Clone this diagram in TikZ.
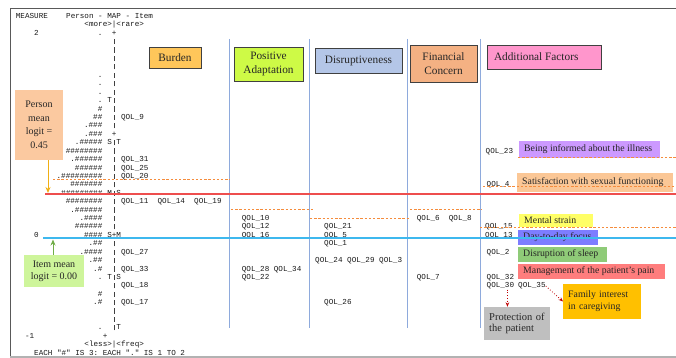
\documentclass[tikz,border=0pt]{standalone}
\usepackage{fontspec}
\setmainfont{Liberation Serif}
\setmonofont{Liberation Mono}
\usetikzlibrary{arrows.meta}
\definecolor{vcol}{RGB}{142,170,220}
\definecolor{ocol}{RGB}{245,140,60}
\definecolor{redl}{RGB}{238,78,78}
\definecolor{bluel}{RGB}{62,184,238}
\definecolor{burc}{RGB}{255,198,90}
\definecolor{posc}{RGB}{206,250,70}
\definecolor{disc}{RGB}{180,198,231}
\definecolor{finc}{RGB}{244,177,131}
\definecolor{addc}{RGB}{255,150,204}
\definecolor{infc}{RGB}{204,153,255}
\definecolor{satc}{RGB}{251,199,150}
\definecolor{menc}{RGB}{255,255,102}
\definecolor{dayc}{RGB}{125,125,255}
\definecolor{slpc}{RGB}{143,203,120}
\definecolor{painc}{RGB}{255,125,125}
\definecolor{protc}{RGB}{191,191,191}
\definecolor{famc}{RGB}{255,192,0}
\definecolor{pmc}{RGB}{251,201,160}
\definecolor{imc}{RGB}{206,245,155}
\definecolor{pmarr}{RGB}{240,175,20}
\definecolor{imarr}{RGB}{112,173,71}
\definecolor{darr}{RGB}{192,0,0}
\tikzset{
  wmono/.style={font=\ttfamily\fontsize{7.62}{8}\selectfont, inner sep=0pt, text=black!90},
  headbox/.style={draw=black!75, line width=0.7pt, font=\fontsize{11.3}{13.3}\selectfont, align=center, inner sep=0pt, text=black!85},
  factlab/.style={anchor=west, inner xsep=5pt, inner ysep=0pt, align=left, font=\fontsize{9.8}{11}\selectfont, text=black!85},
  colline/.style={draw=vcol, line width=0.9pt},
  meandash/.style={draw=ocol, line width=1pt, dash pattern=on 2.4pt off 1.8pt},
  dotarr/.style={draw=darr, line width=0.8pt, dotted, -{Stealth[length=4.5pt,width=3.5pt]}},
}
\newcommand\vb{\makebox[4.572pt]{\color{black!75}\rule[-0.5pt]{0.45pt}{5.2pt}}}
\newcommand\wrow[4]{%
  \node[wmono, anchor=mid east] (p#1) at ({15.7+4.572*19},{33+8.42*#1}) {#2};
  \node[wmono, anchor=mid west] (m#1) at ({15.7+4.572*20},{33+8.42*#1}) {#3};
  \node[wmono, anchor=mid west] (i#1) at ({15.7+4.572*23},{33+8.42*#1}) {#4};
}
\begin{document}
\begin{tikzpicture}[x=1pt,y=-1pt]
\useasboundingbox (0,0) rectangle (676,358);
% frame
\draw[black!65, line width=0.8pt] (676,8) -- (10,8) -- (10,357);
\draw[black!30, line width=1.4pt] (10,357) -- (676,357);

% column separators
\draw[colline] (229.5,39) -- (229.5,328);
\draw[colline] (309,39) -- (309,328);
\draw[colline] (407.5,39) -- (407.5,328);
\draw[colline] (480.5,39) -- (480.5,328);

% dashed group-mean lines
\draw[meandash] (53,179) -- (230,179);
\draw[meandash] (231,209) -- (313,209);
\draw[meandash] (310,218) -- (410,218);
\draw[meandash] (410,209) -- (482,209);

% header of the map
\node[wmono, anchor=mid west] (hm) at (15.7,{33-8.42*2}) {MEASURE};
\node[wmono, anchor=mid west] (hp) at ({15.7+4.572*11},{33-8.42*2}) {Person - MAP - Item};
\node[wmono, anchor=mid west] (hr) at ({15.7+4.572*15},{33-8.42}) {<more>|<rare>};

% map rows
\node[wmono, anchor=mid west] (v2) at ({15.7+4.572*4},33) {2};
\wrow{0}{.}{\ +}{}
\wrow{1}{}{\ \vb}{}
\wrow{2}{}{\ \vb}{}
\wrow{3}{}{\ \vb}{}
\wrow{4}{}{\ \vb}{}
\wrow{5}{.}{\ \vb}{}
\wrow{6}{.}{\ \vb}{}
\wrow{7}{.}{\ \vb}{}
\wrow{8}{.}{T\vb}{}
\wrow{9}{\#}{\ \vb}{}
\wrow{10}{\#\#}{\ \vb}{QOL\_9}
\wrow{11}{.\#\#\#}{\ \vb}{}
\wrow{12}{.\#\#\#}{\ +}{}
\wrow{13}{.\#\#\#\#\#}{S\vb T}{}
\wrow{14}{\#\#\#\#\#\#\#\#}{\ \vb}{}
\wrow{15}{.\#\#\#\#\#\#}{\ \vb}{QOL\_31}
\wrow{16}{\#\#\#\#\#\#}{\ \vb}{QOL\_25}
\wrow{17}{.\#\#\#\#\#\#\#\#\#}{\ \vb}{QOL\_20}
\wrow{18}{\#\#\#\#\#\#\#}{\ \vb}{}
\wrow{19}{.\#\#\#\#\#\#\#\#\#}{M\vb S}{}
\wrow{20}{\#\#\#\#\#\#\#\#}{\ \vb}{QOL\_11\ \ QOL\_14\ \ QOL\_19}
\wrow{21}{.\#\#\#\#\#\#}{\ \vb}{}
\wrow{22}{.\#\#\#\#}{\ \vb}{}
\wrow{23}{\#\#\#\#\#\#}{\ \vb}{}
\wrow{24}{\#\#\#\#}{S+M}{}
\node[wmono, anchor=mid west] (v0) at ({15.7+4.572*4},{33+8.42*24}) {0};
\wrow{25}{.\#\#}{\ \vb}{}
\wrow{26}{.\#\#\#\#}{\ \vb}{QOL\_27}
\wrow{27}{.\#\#}{\ \vb}{}
\wrow{28}{.\#}{\ \vb}{QOL\_33}
\wrow{29}{.}{T\vb S}{}
\wrow{30}{}{\ \vb}{QOL\_18}
\wrow{31}{\#}{\ \vb}{}
\wrow{32}{.\#}{\ \vb}{QOL\_17}
\wrow{33}{}{\ \vb}{}
\wrow{34}{}{\ \vb}{}
\wrow{35}{.}{\ \vb T}{}
\node[wmono, anchor=mid west] (vm1) at ({15.7+4.572*2},{33+8.42*36}) {-1};
\node[wmono, anchor=mid west] (pl36) at ({15.7+4.572*19},{33+8.42*36}) {+};
\node[wmono, anchor=mid west] (fq) at ({15.7+4.572*15},{33+8.42*37}) {<less>|<freq>};
\node[wmono, anchor=mid west] (each) at ({15.7+4.572*4},{33+8.42*38}) {EACH "\#" IS 3: EACH "." IS 1 TO 2};

% items in other columns
\node[wmono, anchor=mid west] (q10) at (241.7,{33+8.42*22}) {QOL\_10};
\node[wmono, anchor=mid west] (q12) at (241.7,{33+8.42*23}) {QOL\_12};
\node[wmono, anchor=mid west] (q16) at (241.7,{33+8.42*24}) {QOL\_16};
\node[wmono, anchor=mid west] (q28) at (241.7,{33+8.42*28}) {QOL\_28\ QOL\_34};
\node[wmono, anchor=mid west] (q22) at (241.7,{33+8.42*29}) {QOL\_22};
\node[wmono, anchor=mid west] (q21) at (324,{33+8.42*23}) {QOL\_21};
\node[wmono, anchor=mid west] (q5) at (324,{33+8.42*24}) {QOL\_5};
\node[wmono, anchor=mid west] (q1) at (324,{33+8.42*25}) {QOL\_1};
\node[wmono, anchor=mid west] (q24) at (315,{33+8.42*27}) {QOL\_24\ QOL\_29\ QOL\_3};
\node[wmono, anchor=mid west] (q26) at (324,{33+8.42*32}) {QOL\_26};
\node[wmono, anchor=mid west] (q6) at (416.7,{33+8.42*22}) {QOL\_6\ \ QOL\_8};
\node[wmono, anchor=mid west] (q7) at (416.7,{33+8.42*29}) {QOL\_7};
\node[wmono, anchor=mid west] (q23) at (485.5,{33+8.42*14}) {QOL\_23};
\node[wmono, anchor=mid west] (q4) at (486.5,{33+8.42*18}) {QOL\_4};
\node[wmono, anchor=mid west] (q15) at (485,{33+8.42*23}) {QOL\_15};
\node[wmono, anchor=mid west] (q13) at (485,{33+8.42*24}) {QOL\_13};
\node[wmono, anchor=mid west] (q2) at (486.5,{33+8.42*26}) {QOL\_2};
\node[wmono, anchor=mid west] (q32) at (486.5,{33+8.42*29}) {QOL\_32};
\node[wmono, anchor=mid west] (q30) at (486.5,{33+8.42*30}) {QOL\_30};
\node[wmono, anchor=mid west] (q35) at (518,{33+8.42*30}) {QOL\_35};

% header boxes
\node[headbox, fill=burc, minimum width=52pt, minimum height=21pt] (hbur) at (175,57.5) {Burden};
\node[headbox, fill=posc, minimum width=69pt, minimum height=34pt] (hpos) at (268.5,64) {Positive\\Adaptation};
\node[headbox, fill=disc, minimum width=87pt, minimum height=25pt] (hdis) at (358.5,60.5) {Disruptiveness};
\node[headbox, fill=finc, minimum width=67pt, minimum height=37pt] (hfin) at (443.5,63.5) {Financial\\Concern};
\node[headbox, fill=addc, minimum height=24pt, inner xsep=7pt, align=left] (hadd) at (544,57) {\makebox[100pt][l]{Additional Factors}};

% additional factor labels
\node[factlab, fill=infc, minimum height=17pt] (linf) at (519,149.5) {\makebox[131pt][l]{Being informed about the illness}};
\node[factlab, fill=satc, minimum height=19pt] (lsat) at (517,182.5) {\makebox[146pt][l]{Satisfaction with sexual functioning}};
\node[factlab, fill=menc, minimum height=13pt] (lmen) at (519,220.5) {\makebox[64pt][l]{Mental strain}};
\node[factlab, fill=dayc, minimum height=15pt] (lday) at (518,237.5) {\makebox[70pt][l]{Day-to-day focus}};
\node[factlab, fill=slpc, minimum height=15pt] (lslp) at (518,254.5) {\makebox[79pt][l]{Disruption of sleep}};
\node[factlab, fill=painc, minimum height=15pt] (lpain) at (518,271.5) {\makebox[137pt][l]{Management of the patient's pain}};
\node[factlab, fill=protc, minimum height=33pt, text width=56pt, font=\fontsize{10.5}{11.5}\selectfont] (prot) at (484,323.5) {Protection of\\the patient};
\node[factlab, fill=famc, minimum height=35pt, text width=68pt, font=\fontsize{9.8}{12.3}\selectfont] (fam) at (563,301.5) {Family interest\\in caregiving};

% dashed lines in additional factors
\draw[meandash] (518,157) -- (676,157);
\draw[meandash] (483,186) -- (676,186);
\draw[meandash] (480,227) -- (676,227);

% dotted arrows
\draw[dotarr] ([xshift=7pt]q30.south) -- ([xshift=7pt]q30.south |- prot.north);
\draw[dotarr] (q35.east) -- (fam.west);

% mean boxes
\node[fill=pmc, minimum width=48pt, minimum height=70pt, inner sep=0pt, align=center, font=\fontsize{10}{13.5}\selectfont, text=black!85] (pm) at (39,125) {Person\\mean\\logit =\\0.45};
\node[fill=imc, minimum width=60pt, minimum height=32pt, inner sep=0pt, align=center, font=\fontsize{10}{12}\selectfont, text=black!85] (im) at (54,271) {Item mean\\logit = 0.00};

% mean lines
\coordinate (rlA) at (45,194);
\coordinate (rlB) at (676,194);
\coordinate (blA) at (43,238);
\coordinate (blB) at (676,238);
\draw[draw=redl, line width=1.3pt] (rlA) -- (rlB);
\draw[draw=bluel, line width=1.3pt] (blA) -- (blB);

% mean arrows
\coordinate (pmT) at (48,193);
\coordinate (imT) at (53,239.5);
\draw[draw=pmarr, line width=1pt, -{Stealth[length=6pt,width=5pt]}] ([xshift=9pt]pm.south) -- (pmT);
\draw[draw=imarr, line width=1pt, -{Stealth[length=6pt,width=5pt]}] ([xshift=-1pt]im.north) -- (imT);
\end{tikzpicture}
\end{document}
